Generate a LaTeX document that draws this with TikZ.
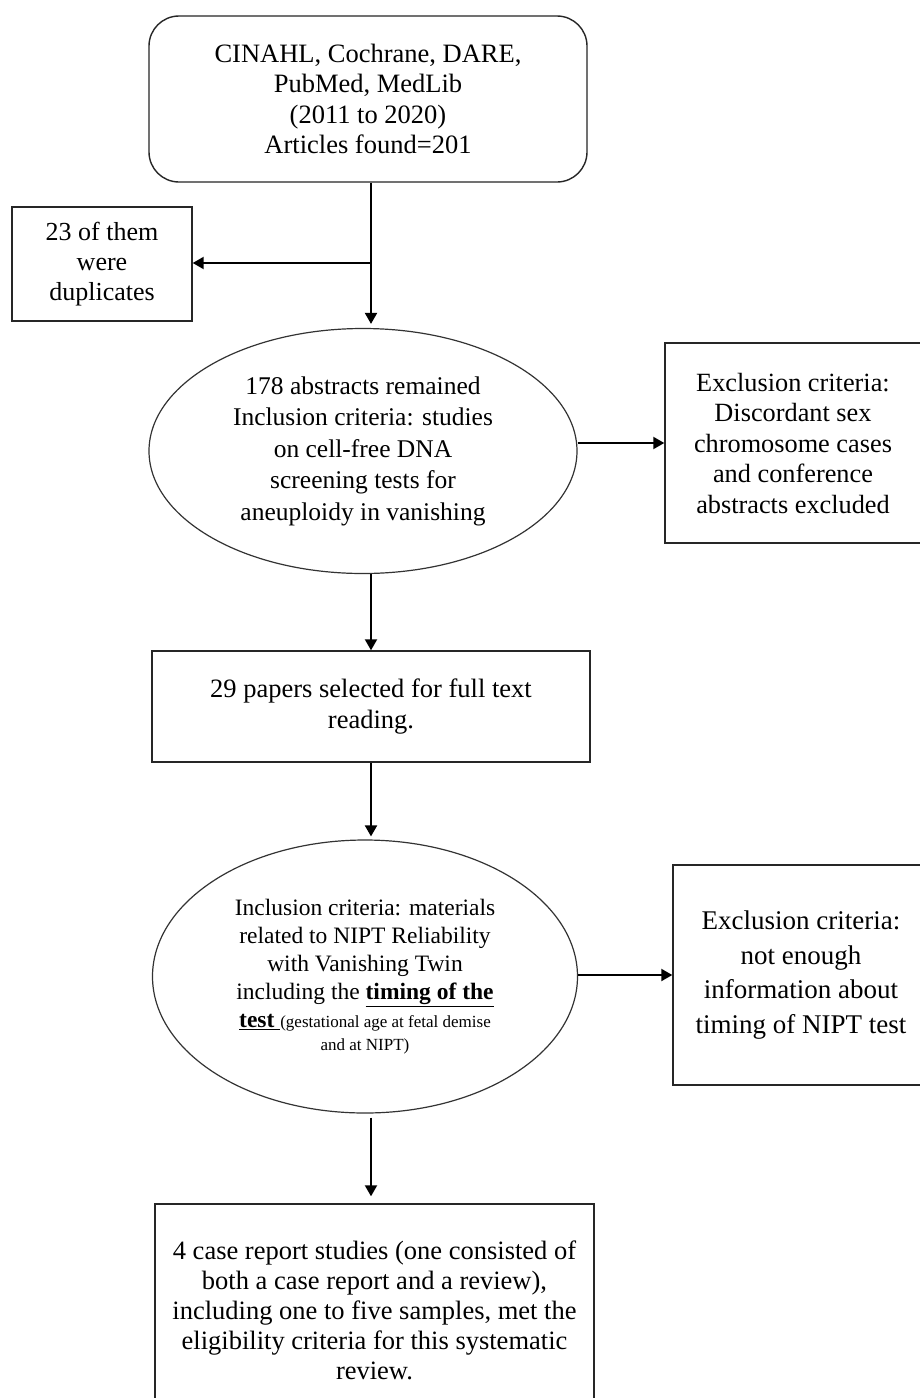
\documentclass[tikz,border=0pt]{standalone}
\usepackage{fontspec}
\setmainfont{Liberation Serif}
\usetikzlibrary{shapes.geometric,arrows.meta}
\begin{document}
\begin{tikzpicture}[x=1pt,y=-1pt,
  boxst/.style={draw=black!85, line width=1.4pt, inner sep=0pt, align=center, fill=white},
  ellst/.style={ellipse, draw=black!80, line width=1.2pt, inner sep=0pt, align=center, fill=white},
  arr/.style={-{Triangle[length=11pt,width=12pt]}, line width=2pt, black}]
\clip (0,0) rectangle (920,1398);
\fill[white] (0,0) rectangle (920,1398);

\node[boxst, rounded corners=30pt, minimum width=438pt, minimum height=166pt,
  font=\fontsize{26.5}{30.5}\selectfont] (top) at (368,99)
  {CINAHL, Cochrane, DARE,\\PubMed, MedLib\\(2011 to 2020)\\Articles found=201};

\node[boxst, minimum width=180pt, minimum height=114pt,
  font=\fontsize{26}{30}\selectfont] (dup) at (102,264)
  {23 of them\\were\\duplicates};

\node[ellst, minimum width=428pt, minimum height=245pt,
  font=\fontsize{25.5}{31.5}\selectfont] (ell1) at (363,451)
  {178 abstracts remained\\Inclusion criteria: studies\\on cell-free DNA\\screening tests for\\aneuploidy in vanishing};

\node[boxst, minimum width=256pt, minimum height=200pt,
  font=\fontsize{26.3}{30.5}\selectfont] (exc1) at (793,443)
  {Exclusion criteria:\\Discordant sex\\chromosome cases\\and conference\\abstracts excluded};

\node[boxst, minimum width=438pt, minimum height=111pt,
  font=\fontsize{26.5}{31}\selectfont] (sel) at (371,706.5)
  {29 papers selected for full text\\reading.};

\node[ellst, minimum width=425pt, minimum height=273pt,
  font=\fontsize{23.5}{28}\selectfont] (ell2) at (365,976.5)
  {Inclusion criteria: materials\\related to NIPT Reliability\\with Vanishing Twin\\including the \underline{\textbf{timing of the}}\\
   \underline{\textbf{test }}{\fontsize{17}{20}\selectfont(gestational age at fetal demise}\\[-5pt]
   {\fontsize{17}{20}\selectfont and at NIPT)}};

\node[boxst, minimum width=256pt, minimum height=220pt,
  font=\fontsize{27}{34.5}\selectfont] (exc2) at (801,975)
  {Exclusion criteria:\\not enough\\information about\\timing of NIPT test};

\node[boxst, minimum width=439pt, minimum height=212pt,
  font=\fontsize{26.5}{30}\selectfont] (fin) at (374.5,1310)
  {4 case report studies (one consisted of\\both a case report and a review),\\including one to five samples, met the\\eligibility criteria for this systematic\\review.};

\coordinate (ax) at (371,0);
\coordinate (br) at (371,263);
\draw[arr, shorten >=4pt] (top.south -| ax) -- (ell1.north -| ax);
\draw[arr] (br) -- (br -| dup.east);
\draw[arr] (ell1.east |- exc1.west) -- (exc1.west);
\draw[arr] (ell1.south -| ax) -- (sel.north -| ax);
\draw[arr, shorten >=3pt] (sel.south -| ax) -- (ell2.north -| ax);
\draw[arr] (ell2.east |- exc2.west) -- (exc2.west);
\draw[arr, shorten <=4pt, shorten >=7pt] (ell2.south -| ax) -- (fin.north -| ax);
\end{tikzpicture}
\end{document}
